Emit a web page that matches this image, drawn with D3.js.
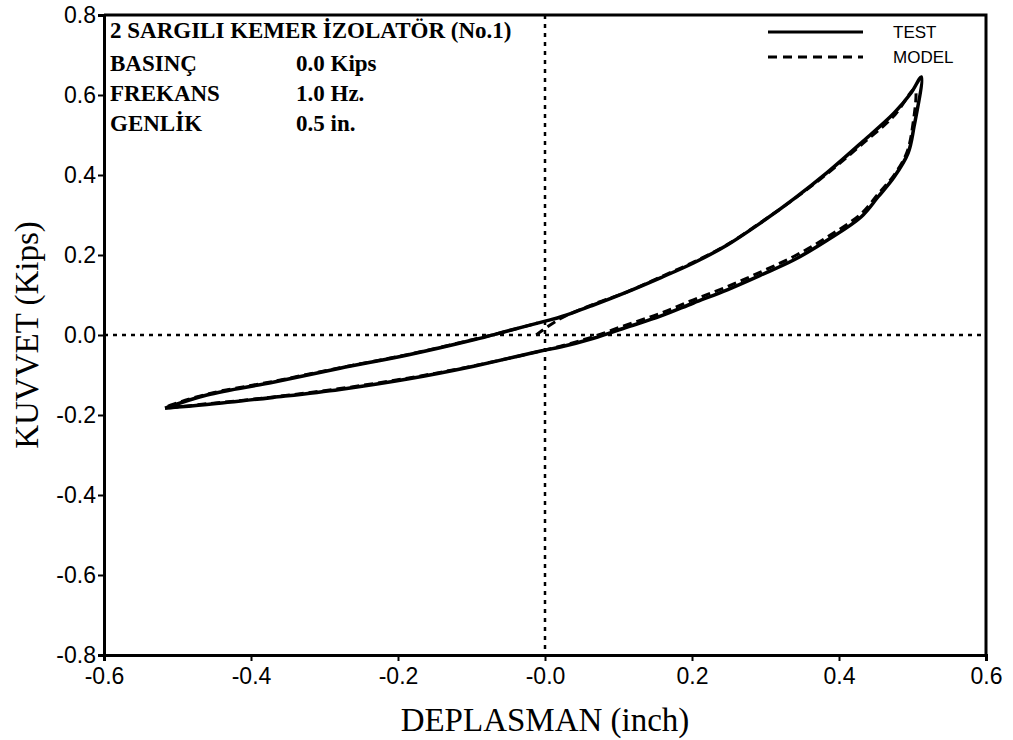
<!DOCTYPE html>
<html>
<head>
<meta charset="utf-8">
<script src="https://cdn.jsdelivr.net/npm/d3@7"></script>
<style>
  body { margin: 0; background: #fff; }
</style>
</head>
<body>
<div id="chart"></div>
<script>
// Axis ticks
const xTicks = [-0.6, -0.4, -0.2, 0.0, 0.2, 0.4, 0.6];
const xTickLabels = ["-0.6", "-0.4", "-0.2", "-0.0", "0.2", "0.4", "0.6"];
const yTicks = [0.8, 0.6, 0.4, 0.2, 0.0, -0.2, -0.4, -0.6, -0.8];
const yTickLabels = ["0.8", "0.6", "0.4", "0.2", "0.0", "-0.2", "-0.4", "-0.6", "-0.8"];

// TEST loop (displacement in inch, force in kips): upper branch, then lower branch
const testDisp = [-0.517, -0.460, -0.370, -0.279, -0.187, -0.097, -0.051, 0.003, 0.021, 0.066, 0.112, 0.157, 0.202, 0.248, 0.294, 0.339, 0.385, 0.430, 0.475, 0.498, 0.512,
                  0.502, 0.494, 0.475, 0.453, 0.430, 0.385, 0.339, 0.294, 0.248, 0.202, 0.157, 0.112, 0.066, 0.021, -0.006, -0.097, -0.187, -0.279, -0.370, -0.460, -0.517];
const testForce = [-0.183, -0.150, -0.118, -0.083, -0.050, -0.012, 0.010, 0.036, 0.045, 0.075, 0.108, 0.143, 0.180, 0.225, 0.281, 0.341, 0.408, 0.480, 0.555, 0.605, 0.645,
                   0.520, 0.455, 0.395, 0.345, 0.295, 0.238, 0.188, 0.150, 0.113, 0.080, 0.047, 0.020, -0.008, -0.030, -0.040, -0.078, -0.110, -0.136, -0.156, -0.174, -0.183];

// MODEL loop, starts near the origin
const modelDisp = [-0.012, 0.020, 0.066, 0.112, 0.157, 0.202, 0.248, 0.294, 0.339, 0.385, 0.430, 0.475, 0.503,
                   0.500, 0.492, 0.475, 0.453, 0.430, 0.385, 0.339, 0.294, 0.248, 0.202, 0.157, 0.112, 0.066, 0.021, -0.006, -0.097, -0.187, -0.279, -0.370, -0.460, -0.515,
                   -0.460, -0.370, -0.279, -0.187, -0.097, -0.051, -0.010];
const modelForce = [0.000, 0.040, 0.077, 0.108, 0.145, 0.182, 0.226, 0.282, 0.340, 0.405, 0.475, 0.548, 0.615,
                    0.520, 0.455, 0.400, 0.352, 0.303, 0.246, 0.197, 0.158, 0.121, 0.088, 0.054, 0.026, -0.004, -0.028, -0.040, -0.077, -0.108, -0.134, -0.155, -0.172, -0.181,
                    -0.148, -0.116, -0.082, -0.049, -0.011, 0.010, 0.030];

const chartTitle = "2 SARGILI KEMER İZOLATÖR (No.1)";
const infoLabels = ["BASINÇ", "FREKANS", "GENLİK"];
const infoValues = ["0.0 Kips", "1.0 Hz.", "0.5 in."];
const seriesNames = ["TEST", "MODEL"];

const width = 1013, height = 740;
const margin = {top: 15, right: 27, bottom: 85, left: 104};

const svg = d3.select("#chart").append("svg")
    .attr("width", width)
    .attr("height", height);

const x = d3.scaleLinear().domain([-0.6, 0.6]).range([margin.left, width - margin.right]);
const y = d3.scaleLinear().domain([-0.8, 0.8]).range([height - margin.bottom, margin.top]);

// Zero reference lines (dotted)
svg.append("line")
    .attr("x1", x(-0.6)).attr("x2", x(0.6))
    .attr("y1", y(0)).attr("y2", y(0))
    .attr("stroke", "#000").attr("stroke-width", 2.5)
    .attr("stroke-dasharray", "4,5");
svg.append("line")
    .attr("x1", x(0)).attr("x2", x(0))
    .attr("y1", y(0.8)).attr("y2", y(-0.8))
    .attr("stroke", "#000").attr("stroke-width", 2.5)
    .attr("stroke-dasharray", "4,5");

// Frame: top and right
svg.append("path")
    .attr("d", `M${x(-0.6)},${y(0.8)}H${x(0.6)}V${y(-0.8)}`)
    .attr("fill", "none").attr("stroke", "#000").attr("stroke-width", 3);

// Axes
const xAxis = svg.append("g")
    .attr("transform", `translate(0,${y(-0.8)})`)
    .call(d3.axisBottom(x).tickValues(xTicks).tickFormat((d, i) => xTickLabels[i]).tickSize(6).tickPadding(7));
const yAxis = svg.append("g")
    .attr("transform", `translate(${x(-0.6)},0)`)
    .call(d3.axisLeft(y).tickValues(yTicks).tickFormat((d, i) => yTickLabels[i]).tickSize(6).tickPadding(2));

[xAxis, yAxis].forEach(g => {
    g.select(".domain").attr("stroke-width", 3);
    g.selectAll(".tick line").attr("stroke-width", 2);
    g.selectAll("text")
        .attr("fill", "#000")
        .style("font-family", "'Liberation Sans', Arial, sans-serif")
        .style("font-size", "23px");
});

// Axis titles
svg.append("text")
    .attr("x", x(0))
    .attr("y", 731)
    .attr("text-anchor", "middle")
    .style("font-family", "'Liberation Serif', 'Times New Roman', serif")
    .style("font-size", "33px")
    .text("DEPLASMAN (inch)");

svg.append("text")
    .attr("transform", `translate(38,${y(0)}) rotate(-90)`)
    .attr("text-anchor", "middle")
    .style("font-family", "'Liberation Serif', 'Times New Roman', serif")
    .style("font-size", "33px")
    .text("KUVVET (Kips)");

// Curves
const line = d3.line()
    .x(d => x(d[0]))
    .y(d => y(d[1]))
    .curve(d3.curveCatmullRom.alpha(0.5));

svg.append("path")
    .datum(modelDisp.map((d, i) => [d, modelForce[i]]))
    .attr("d", line)
    .attr("fill", "none").attr("stroke", "#000").attr("stroke-width", 3)
    .attr("stroke-dasharray", "9,5");

svg.append("path")
    .datum(testDisp.map((d, i) => [d, testForce[i]]))
    .attr("d", line)
    .attr("fill", "none").attr("stroke", "#000").attr("stroke-width", 3.5);

// Info block
const info = svg.append("g")
    .style("font-family", "'Liberation Serif', 'Times New Roman', serif")
    .style("font-weight", "bold")
    .style("font-size", "23px");

info.append("text").attr("x", 110).attr("y", 38).text(chartTitle);
infoLabels.forEach((lab, i) => {
    info.append("text").attr("x", 110).attr("y", 71 + i * 30).text(lab);
    info.append("text").attr("x", 296).attr("y", 71 + i * 30).text(infoValues[i]);
});

// Legend
const legend = svg.append("g");
seriesNames.forEach((name, i) => {
    const ly = 32 + i * 25;
    legend.append("line")
        .attr("x1", 768).attr("x2", 863)
        .attr("y1", ly).attr("y2", ly)
        .attr("stroke", "#000").attr("stroke-width", 3)
        .attr("stroke-dasharray", i === 0 ? null : "9,6");
    legend.append("text")
        .attr("x", 893).attr("y", ly + 6)
        .style("font-family", "'Liberation Sans', Arial, sans-serif")
        .style("font-size", "17px")
        .text(name);
});
</script>
</body>
</html>
